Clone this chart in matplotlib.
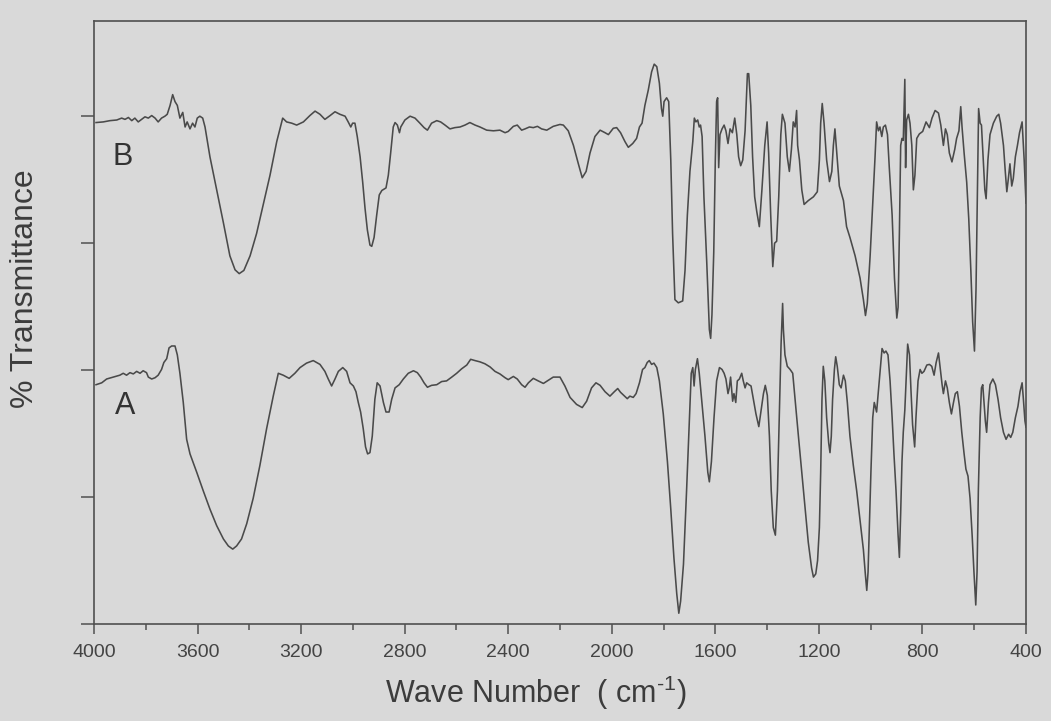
import matplotlib
matplotlib.use("Agg")
import matplotlib.pyplot as plt
from matplotlib.ticker import MultipleLocator, NullFormatter

# ── Style ──────────────────────────────────────────────────────────────────
plt.rcParams.update({
    "font.family": ["Liberation Sans", "DejaVu Sans"],
    "mathtext.default": "regular",
    "text.color": "#3c3c3c",
})

BG = "#d9d9d9"
INK = "#4a4a4a"

# ── FTIR spectra (wave number in cm-1, % transmittance) ───────────────────
B_WAVENUMBER = [
    3992, 3964, 3938, 3912, 3893, 3880, 3867, 3854, 3842, 3829, 3816, 3803,
    3790, 3777, 3764, 3752, 3739, 3726, 3717, 3706, 3696, 3687, 3678, 3668,
    3657, 3648, 3640, 3629, 3619, 3610, 3601, 3591, 3580, 3571, 3552, 3526,
    3500, 3475, 3455, 3439, 3421, 3397, 3372, 3346, 3320, 3294, 3271, 3256,
    3236, 3217, 3191, 3166, 3146,
    3127, 3108, 3088, 3069, 3050, 3030, 3018, 3008, 3001, 2992, 2983, 2972,
    2962, 2953, 2944, 2934, 2927, 2918, 2908, 2898, 2888, 2872, 2863, 2854,
    2844, 2837, 2828, 2820, 2815, 2799, 2779, 2760, 2741, 2725, 2712, 2696,
    2676, 2661, 2644, 2625, 2606, 2586, 2567, 2548, 2528, 2509, 2483, 2457,
    2432, 2412, 2400, 2380, 2365, 2348, 2335, 2318, 2303, 2287, 2271, 2251,
    2226, 2200,
    2187, 2168, 2148, 2129, 2114, 2099, 2084, 2065, 2045, 2026, 2013, 1994,
    1981, 1966, 1949, 1936, 1919, 1904, 1893, 1883, 1872, 1859, 1846, 1836,
    1826, 1816, 1808, 1803, 1798, 1788, 1780, 1772, 1765, 1756, 1743, 1726,
    1717, 1708, 1698, 1687, 1681, 1675, 1668, 1662, 1657, 1651, 1644, 1633,
    1623, 1618, 1613, 1606, 1600, 1595, 1591, 1587, 1582, 1574, 1566, 1559,
    1551, 1543, 1534, 1525, 1517, 1510, 1502, 1494, 1485, 1476, 1471, 1463,
    1456, 1448, 1440, 1430, 1420, 1409, 1400, 1394, 1386, 1378, 1371, 1363,
    1355, 1347, 1341,
    1331, 1322, 1314, 1306, 1299, 1292, 1286, 1282, 1275, 1266, 1257, 1241,
    1221, 1206, 1198, 1193, 1187, 1180, 1170, 1159, 1150, 1144, 1138, 1131,
    1121, 1105, 1093, 1080, 1060, 1041, 1028, 1020, 1013, 1002, 992, 983,
    977, 970, 964, 957, 951, 943, 935, 928, 917, 908, 899, 894,
    889, 884, 879, 874, 868, 865, 861, 854, 848, 841, 835, 829,
    822, 812, 799, 786, 773, 763, 751, 738, 729, 719, 711, 704,
    696, 686, 675, 668, 659, 652, 647, 639, 629, 621, 613, 606,
    599, 593, 588, 583, 577, 572, 567, 559, 554, 547, 539, 526,
    513, 505, 498, 487, 480, 474, 468, 462, 455, 449, 441, 433,
    425, 415, 407, 400,
]
B_TRANSMITTANCE = [
    79.0, 79.1, 79.3, 79.4, 79.7, 79.5, 79.8, 79.3, 79.7, 79.1, 79.5, 79.9,
    79.7, 80.1, 79.7, 79.1, 79.7, 80.0, 80.3, 81.7, 83.4, 82.3, 81.7, 79.7,
    80.6, 78.3, 79.1, 78.0, 78.9, 78.3, 79.7, 80.0, 79.7, 78.3, 73.6, 68.4,
    63.2, 58.0, 55.8, 55.2, 55.7, 58.0, 61.5, 66.1, 70.7, 76.0, 79.7, 79.1,
    78.9, 78.6, 79.1, 80.1, 80.8,
    80.3, 79.5, 80.1, 80.7, 80.3, 80.0, 79.1, 78.3, 78.9, 78.9, 76.8, 73.6,
    69.6, 65.5, 62.1, 59.7, 59.5, 60.9, 64.4, 67.6, 68.3, 68.7, 70.7, 74.2,
    78.3, 79.0, 78.6, 77.4, 78.3, 79.4, 80.0, 79.7, 78.9, 78.2, 77.8, 78.9,
    79.3, 79.1, 78.6, 78.0, 78.2, 78.3, 78.6, 79.0, 78.6, 78.3, 77.8, 77.7,
    77.8, 77.4, 77.6, 78.4, 78.6, 77.8, 78.0, 78.3, 78.2, 78.4, 78.0, 77.8,
    78.4, 78.7,
    78.6, 77.7, 75.4, 72.5, 70.3, 71.3, 74.2, 76.8, 77.8, 77.4, 77.1, 78.1,
    78.2, 77.4, 76.0, 75.1, 75.7, 76.5, 78.3, 78.9, 81.7, 84.1, 87.0, 88.2,
    87.8, 85.2, 81.2, 80.0, 82.3, 82.9, 82.3, 73.1, 61.5, 51.1, 50.6, 50.9,
    55.7, 64.4, 71.3, 76.0, 79.7, 79.1, 79.4, 78.3, 78.6, 76.8, 67.3, 56.9,
    46.4, 45.0, 48.7, 58.6, 73.1, 82.3, 82.9, 71.9, 77.1, 78.0, 78.6, 77.7,
    75.7, 78.0, 77.4, 79.7, 77.1, 73.6, 72.2, 73.1, 77.7, 86.7, 86.7, 81.7,
    73.6, 67.3, 65.0, 62.6, 68.4, 75.4, 79.1, 74.2, 64.4, 56.3, 60.0, 60.3,
    67.3, 77.1, 80.3,
    78.9, 73.6, 71.3, 74.8, 79.1, 78.3, 80.9, 75.4, 73.1, 68.4, 66.1, 66.7,
    67.3, 68.1, 73.1, 78.9, 82.0, 78.9, 73.1, 69.7, 71.3, 75.4, 78.0, 74.2,
    69.0, 66.7, 62.6, 60.9, 58.0, 54.5, 51.1, 48.6, 50.5, 58.0, 66.1, 73.6,
    79.1, 77.7, 78.3, 76.8, 78.3, 78.6, 77.1, 71.9, 64.4, 54.5, 48.2, 49.9,
    61.5, 75.4, 76.5, 76.2, 85.8, 71.9, 79.4, 80.3, 78.9, 75.4, 68.4, 70.7,
    76.5, 77.2, 77.6, 79.1, 78.2, 79.7, 80.9, 80.5, 78.6, 75.4, 78.0, 77.1,
    74.2, 72.8, 74.8, 76.5, 77.7, 81.5, 78.3, 74.2, 69.6, 63.8, 55.7, 47.6,
    43.0, 52.8, 67.3, 81.2, 78.9, 78.6, 74.8, 68.4, 67.0, 73.1, 77.1, 78.9,
    80.0, 80.3, 78.9, 75.4, 71.3, 68.1, 70.2, 72.5, 69.0, 70.2, 73.6, 75.4,
    77.4, 79.1, 73.1, 66.3,
]

A_WAVENUMBER = [
    3992, 3970, 3951, 3925, 3900, 3887, 3874, 3861, 3848, 3835, 3822, 3810,
    3797, 3790, 3777, 3764, 3752, 3739, 3730, 3719, 3710, 3700, 3687, 3678,
    3668, 3655, 3642, 3629, 3603, 3578, 3552, 3526, 3500, 3481, 3464, 3449,
    3430, 3410, 3385, 3359, 3333, 3307, 3288, 3269, 3246, 3224, 3204, 3179,
    3153,
    3127, 3108, 3095, 3082, 3069, 3056, 3039, 3024, 3011, 2998, 2988, 2979,
    2970, 2960, 2951, 2943, 2934, 2925, 2915, 2906, 2895, 2882, 2872, 2860,
    2850, 2837, 2821, 2805, 2786, 2766, 2751, 2738, 2725, 2712, 2696, 2676,
    2657, 2638, 2618, 2599, 2580, 2560, 2545, 2528, 2509, 2490, 2470, 2451,
    2432, 2412, 2400, 2380, 2365, 2348, 2335, 2322, 2303, 2284, 2264, 2245,
    2226, 2200,
    2181, 2161, 2136, 2114, 2097, 2078, 2061, 2045, 2026, 2007, 1990, 1977,
    1966, 1953, 1940, 1930, 1917, 1906, 1893, 1881, 1872, 1863, 1855, 1846,
    1837, 1826, 1816, 1801, 1785, 1772, 1760, 1749, 1741, 1734, 1723, 1711,
    1700, 1693, 1687, 1682, 1677, 1669, 1662, 1653, 1640, 1629, 1623, 1615,
    1605, 1595, 1584, 1574, 1566, 1559, 1551, 1546, 1541, 1533, 1528, 1521,
    1515, 1507, 1498, 1492, 1485, 1479, 1470, 1462, 1453, 1443, 1432, 1423,
    1414, 1407, 1399, 1391, 1384, 1376, 1368, 1360, 1353, 1346, 1340,
    1337, 1331, 1322, 1311, 1301, 1292, 1279, 1266, 1253, 1241, 1228, 1221,
    1212, 1205, 1198, 1193, 1188, 1183, 1177, 1170, 1162, 1157, 1152, 1147,
    1140, 1135, 1129, 1121, 1114, 1105, 1098, 1090, 1080, 1067, 1054, 1041,
    1028, 1020, 1015, 1010, 1005, 999, 992, 986, 977, 969, 961, 956,
    948, 941, 933, 925, 917, 910, 902, 894, 889, 884, 879, 874,
    868, 863, 857, 850, 844, 838, 830, 825, 817, 809, 802, 794,
    783, 773, 764, 755, 747, 738, 732, 724, 719, 711, 704, 696,
    688, 680, 673, 665, 657, 648, 639, 632, 624, 616, 608, 601,
    594, 589, 584, 577, 572, 567, 562, 557, 552, 545, 539, 528,
    518, 508, 498, 487, 477, 467, 459, 451, 441, 431, 423, 415,
    410, 404, 400,
]
A_TRANSMITTANCE = [
    37.7, 38.0, 38.6, 38.9, 39.2, 39.5, 39.2, 39.6, 39.4, 39.8, 39.5, 39.9,
    39.6, 38.9, 38.6, 38.8, 39.2, 40.1, 41.2, 41.8, 43.5, 43.8, 43.8, 42.4,
    39.5, 34.9, 29.1, 26.8, 23.9, 21.0, 18.1, 15.5, 13.4, 12.3, 11.8, 12.3,
    13.4, 15.8, 19.8, 25.0, 30.8, 36.0, 39.5, 39.2, 38.7, 39.5, 40.4, 41.1,
    41.5,
    40.9, 39.8, 38.6, 37.5, 38.6, 39.8, 40.4, 39.8, 38.0, 37.5, 36.6, 34.9,
    33.4, 30.8, 27.9, 26.8, 27.0, 29.6, 35.4, 38.0, 37.5, 34.9, 33.4, 33.4,
    35.4, 37.2, 37.7, 38.6, 39.5, 39.9, 39.6, 38.9, 38.0, 37.3, 37.6, 37.7,
    38.2, 38.3, 38.9, 39.5, 40.2, 40.8, 41.7, 41.5, 41.3, 41.0, 40.5, 39.8,
    39.4, 38.8, 38.5, 39.0, 38.6, 37.7, 37.3, 38.0, 38.7, 38.3, 37.9, 38.4,
    38.9, 38.9,
    37.5, 35.7, 34.6, 34.1, 35.1, 37.2, 38.0, 37.6, 36.6, 35.9, 36.6, 37.1,
    36.5, 36.0, 35.5, 35.9, 35.7, 36.3, 38.0, 40.1, 40.4, 41.2, 41.5, 40.9,
    41.1, 40.4, 38.3, 33.1, 25.6, 18.1, 10.5, 4.8, 1.7, 3.6, 9.4, 21.0,
    32.5, 39.5, 40.4, 37.5, 40.1, 41.8, 39.5, 35.4, 29.6, 23.9, 22.4, 25.6,
    32.5, 38.3, 40.4, 40.1, 39.5, 38.6, 36.3, 37.2, 38.9, 35.1, 36.3, 34.9,
    38.3, 38.6, 39.5, 38.3, 37.2, 38.0, 37.7, 37.5, 35.4, 33.1, 31.1, 33.7,
    36.3, 37.6, 36.0, 29.6, 21.0, 15.2, 14.0, 21.0, 32.5, 44.1, 50.5,
    46.4, 42.4, 40.6, 40.1, 39.5, 35.4, 29.6, 23.9, 18.1, 12.9, 8.8, 7.4,
    7.9, 10.0, 15.2, 23.9, 35.4, 40.6, 38.3, 32.5, 28.5, 27.0, 29.6, 35.4,
    40.1, 42.1, 40.6, 37.7, 37.2, 39.2, 38.3, 34.9, 29.6, 25.0, 21.0, 16.3,
    11.7, 7.6, 5.3, 8.2, 15.2, 23.9, 32.5, 34.9, 33.4, 37.2, 41.2, 43.4,
    42.7, 43.0, 42.4, 38.3, 32.5, 26.8, 21.0, 14.0, 10.5, 17.5, 25.6, 30.2,
    33.7, 38.3, 44.1, 42.4, 36.6, 31.4, 27.9, 32.5, 38.3, 40.1, 39.5, 39.8,
    40.8, 40.9, 40.6, 39.2, 41.2, 42.7, 40.6, 37.7, 36.3, 38.3, 37.2, 34.9,
    33.1, 34.9, 36.3, 36.6, 34.3, 30.2, 26.8, 24.4, 23.3, 19.8, 14.0, 8.2,
    3.0, 8.2, 21.0, 32.5, 37.2, 37.7, 34.9, 32.0, 30.2, 34.9, 37.7, 38.6,
    37.7, 35.4, 32.5, 30.2, 29.1, 29.9, 29.4, 30.2, 32.5, 34.3, 36.6, 38.0,
    35.4, 32.0, 31.0,
]

X_MAJOR = [4000, 3600, 3200, 2800, 2400, 2000, 1600, 1200, 800, 400]
Y_TICKS = [0, 20, 40, 60, 80]

# ── Plot ───────────────────────────────────────────────────────────────────
fig = plt.figure(figsize=(10.51, 7.21), dpi=100, facecolor=BG)
ax = fig.add_axes([0.0894, 0.1345, 0.8868, 0.8364], facecolor=BG)

ax.plot(B_WAVENUMBER, B_TRANSMITTANCE, color=INK, linewidth=1.15)
ax.plot(A_WAVENUMBER, A_TRANSMITTANCE, color=INK, linewidth=1.15)

ax.text(3928, 73.6, "B", fontsize=22, ha="left", va="center", color="#333333")
ax.text(3920, 34.3, "A", fontsize=22, ha="left", va="center", color="#333333")

ax.set_xlim(4000, 400)
ax.set_ylim(0, 95)
ax.set_xticks(X_MAJOR)
ax.set_xticklabels([str(v) for v in X_MAJOR])
ax.xaxis.set_minor_locator(MultipleLocator(200))
ax.set_yticks(Y_TICKS)
ax.yaxis.set_major_formatter(NullFormatter())

for side in ["left", "right", "top", "bottom"]:
    ax.spines[side].set_color("#505050")
    ax.spines[side].set_linewidth(1.2)

ax.tick_params(axis="x", which="major", direction="out", length=7.5,
               width=1.1, color="#505050", pad=7, labelsize=14,
               labelcolor="#444444")
ax.tick_params(axis="x", which="minor", direction="out", length=4,
               width=1.1, color="#505050")
ax.tick_params(axis="y", which="major", direction="out", length=9.5,
               width=1.1, color="#505050")

# hyphen (not minus) in the superscript, as on the printed axis
ax.set_xlabel("Wave Number  ( cm$^{\u2010" + "1}$)", fontsize=22,
              color="#3c3c3c")
ax.xaxis.set_label_coords(0.474, -0.083)
ax.set_ylabel("% Transmittance", fontsize=23, color="#3c3c3c")
ax.yaxis.set_label_coords(-0.058, 0.556)

fig.savefig("out.png", dpi=100, facecolor=BG)
